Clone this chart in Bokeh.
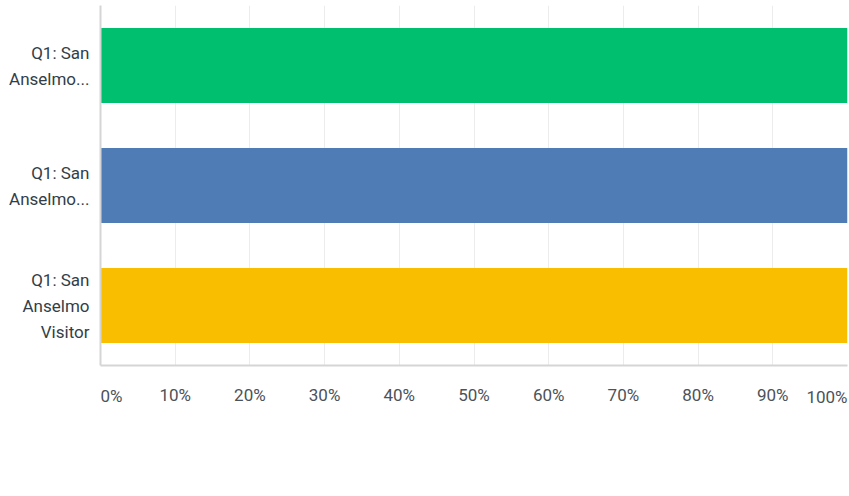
from bokeh.plotting import figure
from bokeh.models import (Range1d, FixedTicker, Legend, LegendItem, LinearAxis,
                          ColumnDataSource)
from bokeh.embed import file_html
from bokeh.resources import INLINE

categories = ["Q1: San Anselmo Resident", "Q1: San Anselmo Business Owner",
              "Q1: San Anselmo Visitor"]
category_labels = ["Q1: San\nAnselmo...", "Q1: San\nAnselmo...",
                   "Q1: San\nAnselmo\nVisitor"]
series_names = ["San Anselmo Resident", "San Anselmo Business Owner",
                "San Anselmo Visitor"]
resident = [100, 0, 0]
business_owner = [0, 100, 0]
visitor = [0, 0, 100]
colors = ["#00bf6f", "#507cb6", "#f9be00"]
x_ticks = [0, 10, 20, 30, 40, 50, 60, 70, 80, 90, 100]
x_tick_labels = ["0%", "10%", "20%", "30%", "40%", "50%", "60%", "70%",
                 "80%", "90%", "100%"]

FONT = "Roboto"
TEXT = "#333e48"
TICK_TEXT = "#4b5259"
LABEL_GAP = 19      # px from axis line to top of tick labels
LABEL_H = 23        # measured height of a 17px tick label box

n = len(categories)
ypos = [n - 1 - i for i in range(n)]

source = ColumnDataSource(dict(y=ypos, resident=resident,
                               business=business_owner, visitor=visitor))

p = figure(frame_width=747, frame_height=360, output_backend="svg",
           toolbar_location=None, x_range=Range1d(0, 100),
           y_range=Range1d(-0.5, n - 0.5),
           min_border_left=100, min_border_right=2, min_border_top=5,
           min_border_bottom=0)
p.outline_line_color = None

rs = p.hbar_stack(["resident", "business", "visitor"], y="y", height=0.625,
                  color=colors, line_color=None, source=source)

lab_map = dict(zip(x_ticks, x_tick_labels))


def tick_axis(ticks, standoff, orientation="horizontal", align="center",
              line_color=None):
    return LinearAxis(ticker=FixedTicker(ticks=ticks),
                      major_label_overrides={t: lab_map[t] for t in ticks},
                      major_tick_out=0, major_tick_in=0,
                      major_tick_line_color=None, minor_tick_line_color=None,
                      axis_line_color=line_color, axis_line_width=2,
                      major_label_standoff=standoff,
                      major_label_orientation=orientation,
                      major_label_text_align=align,
                      major_label_text_font=FONT,
                      major_label_text_font_size="17px",
                      major_label_text_color=TICK_TEXT)


main_h = LABEL_GAP + LABEL_H
label_mid = LABEL_GAP + LABEL_H / 2  # centre of the label row below the line

# main axis: axis line + centred inner labels
main_ax = tick_axis(x_ticks[1:-1], LABEL_GAP, line_color="#d5d5d5")
# edge labels, anchored at their outer end (near-zero angle picks the anchor)
left_standoff = round(label_mid - main_h)
left_ax = tick_axis([x_ticks[0]], left_standoff, orientation=-1e-4,
                    align="left")
right_standoff = round(label_mid - (main_h + left_standoff + LABEL_H))
right_ax = tick_axis([x_ticks[-1]], right_standoff, orientation=1e-4,
                     align="left")

legend = Legend(items=[LegendItem(label=nm, renderers=[r])
                       for nm, r in zip(series_names, rs)],
                orientation="horizontal", location="center",
                glyph_width=24, glyph_height=24, label_standoff=7,
                spacing=21, padding=0, margin=44,
                label_text_font=FONT, label_text_font_size="19px",
                label_text_color=TEXT, border_line_color=None,
                background_fill_alpha=0)

p.below = [main_ax, left_ax, right_ax, legend]

ya = p.yaxis[0]
ya.ticker = FixedTicker(ticks=ypos)
ya.major_label_overrides = {y: lab for y, lab in zip(ypos, category_labels)}
ya.major_tick_line_color = None
ya.minor_tick_line_color = None
ya.axis_line_color = "#d5d5d5"
ya.axis_line_width = 2
ya.major_label_standoff = 5
ya.major_label_text_font = FONT
ya.major_label_text_font_size = "17px"
ya.major_label_text_color = TEXT
ya.major_label_text_line_height = 1.3

p.ygrid.grid_line_color = None
p.xgrid.grid_line_color = "#ececec"
p.xgrid.ticker = FixedTicker(ticks=x_ticks)
p.xgrid.axis = main_ax

open("out.html", "w").write(file_html(p, INLINE))
